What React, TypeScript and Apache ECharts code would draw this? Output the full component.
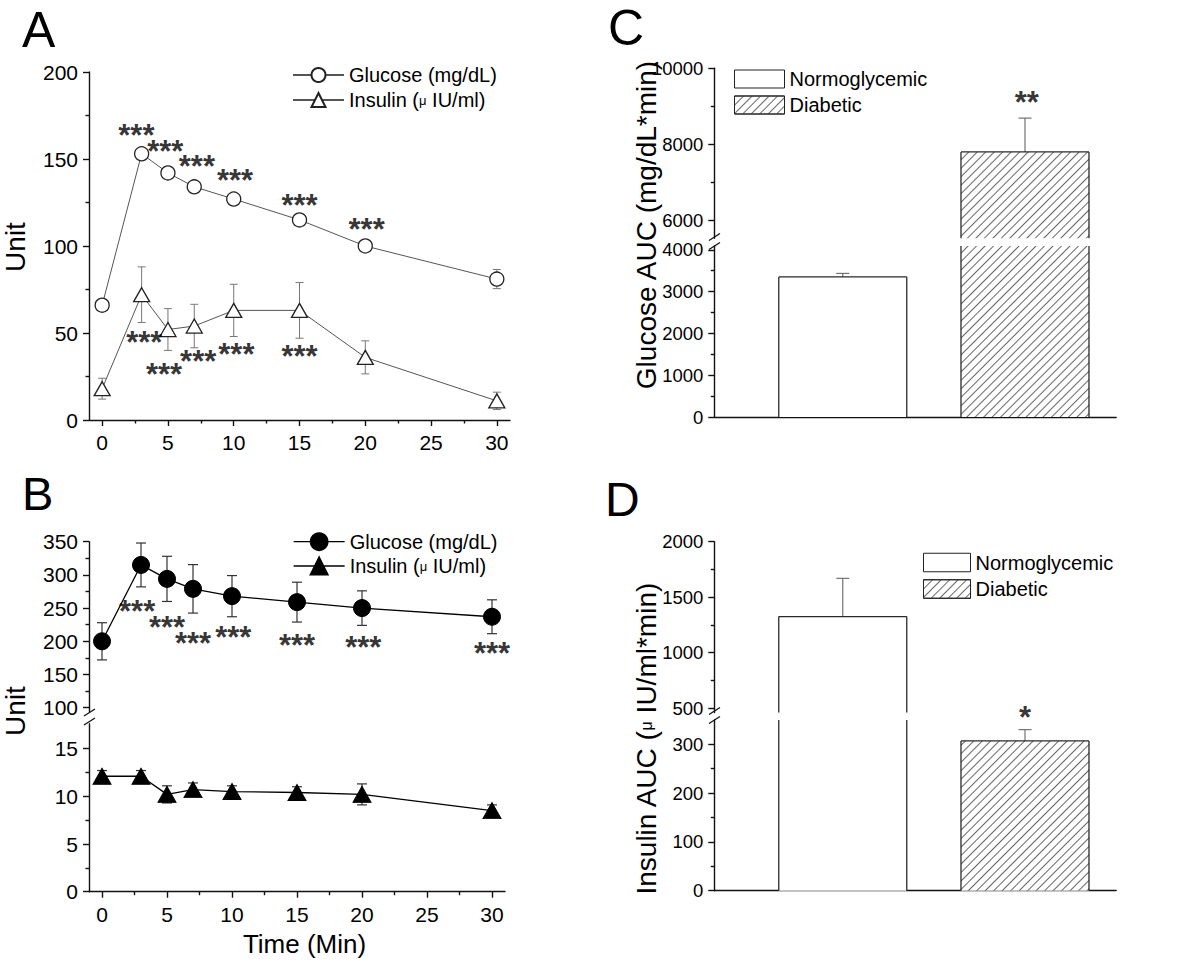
import React, { useEffect, useRef } from 'react';
import * as echarts from 'echarts';

const FONT = '"Liberation Sans", Arial, Helvetica, sans-serif';

// ---------- Panels A & B: time course ----------
const timePoints = [0, 3, 5, 7, 10, 15, 20, 30];
const normGlucose = [66, 153, 142, 134, 127, 115, 100, 81];
const normGlucoseErr = [3, 3, 2, 2, 2, 2, 2, 5.5];
const normInsulin = [18, 72, 52, 54, 63, 63, 36, 11];
const normInsulinErr = [6, 16, 12, 12.5, 15, 16, 9.5, 5];
const diabGlucose = [200, 315, 294, 279, 268, 259, 250, 237];
const diabGlucoseErr = [28, 33, 34, 36.5, 31, 30, 26, 25.5];
const diabInsulin = [12.1, 12.1, 10.2, 10.7, 10.5, 10.4, 10.2, 8.5];
const diabInsulinErr = [0.6, 0.6, 0.9, 0.7, 0.6, 0.6, 1.1, 0.6];

const timeTicks = [0, 5, 10, 15, 20, 25, 30];
const timeMinorTicks = [2.5, 7.5, 12.5, 17.5, 22.5, 27.5];
const unitTicksA = [0, 50, 100, 150, 200];
const unitMinorA = [25, 75, 125, 175];
const unitTicksBHigh = [100, 150, 200, 250, 300, 350];
const unitMinorBHigh = [125, 175, 225, 275, 325];
const unitTicksBLow = [0, 5, 10, 15];
const unitMinorBLow = [2.5, 7.5, 12.5];

// ---------- Panels C & D: AUC ----------
const groups = ['Normoglycemic', 'Diabetic'];
const groupX = [1, 2];
const glucoseAUC = [3350, 7800];
const glucoseAUCErr = [85, 890];
const insulinAUC = [1325, 307];
const insulinAUCErr = [345, 23];

const glucoseAucTicksHigh = [6000, 8000, 10000];
const glucoseAucMinorHigh = [7000, 9000];
const glucoseAucTicksLow = [0, 1000, 2000, 3000, 4000];
const glucoseAucMinorLow = [500, 1500, 2500, 3500];
const insulinAucTicksHigh = [500, 1000, 1500, 2000];
const insulinAucMinorHigh = [750, 1250, 1750];
const insulinAucTicksLow = [0, 100, 200, 300];
const insulinAucMinorLow = [50, 150, 250];

// significance marks (x, y at glyph centre)
const starsAGlucose = [[2.6, 166], [4.8, 157], [7.2, 148], [10.1, 140], [15, 126], [20.1, 112]];
const starsAInsulin = [[3.2, 47], [4.7, 29], [7.3, 36], [10.2, 40], [15, 39]];
const starsBGlucose = [[2.7, 251], [5, 228], [7, 204], [10.1, 213], [15, 201], [20.1, 198], [30, 188]];
const starsCGlucoseAUC = [[2.01, 9210]];
const starsDInsulinAUC = [[2.0, 365]];

const LINE = { color: '#111', width: 1.4 };
const BAR_WIDTH = 128;
const BAR_CAP = 13;
const HATCH = {
  symbol: 'rect',
  symbolSize: 1,
  dashArrayX: [1, 0],
  dashArrayY: [0.8, 4.2],
  rotation: -Math.PI / 4,
  color: '#666',
  backgroundColor: '#fff',
};
const plain = (v: number) => String(v);

const mainY = (gridIndex: number, min: number, max: number, ticks: number[], fontSize: number) => ({
  type: 'value', gridIndex, min, max, position: 'left',
  axisLine: { show: true, onZero: false, lineStyle: LINE },
  axisTick: { show: true, length: 6, customValues: ticks, lineStyle: LINE },
  axisLabel: { show: true, customValues: ticks, formatter: plain, fontSize, margin: 11, color: '#000', fontFamily: FONT },
  splitLine: { show: false },
});
const minorY = (gridIndex: number, min: number, max: number, ticks: number[]) => ({
  type: 'value', gridIndex, min, max, position: 'left',
  axisLine: { show: false, onZero: false },
  axisTick: { show: true, length: 3.5, customValues: ticks, lineStyle: LINE },
  axisLabel: { show: false },
  splitLine: { show: false },
});
const mainX = (gridIndex: number, min: number, max: number, ticks: number[] | null, fontSize: number) => ({
  type: 'value', gridIndex, min, max, position: 'bottom',
  axisLine: { show: true, onZero: false, lineStyle: LINE },
  axisTick: ticks ? { show: true, length: 6, customValues: ticks, lineStyle: LINE } : { show: false },
  axisLabel: ticks
    ? { show: true, customValues: ticks, formatter: plain, fontSize, margin: 12, color: '#000', fontFamily: FONT }
    : { show: false },
  splitLine: { show: false },
});
const minorX = (gridIndex: number, min: number, max: number, ticks: number[]) => ({
  type: 'value', gridIndex, min, max, position: 'bottom',
  axisLine: { show: false, onZero: false },
  axisTick: { show: true, length: 3.5, customValues: ticks, lineStyle: LINE },
  axisLabel: { show: false },
  splitLine: { show: false },
});
const hiddenX = (gridIndex: number, min: number, max: number) => ({
  type: 'value', gridIndex, min, max, show: false, position: 'bottom',
  axisLine: { onZero: false }, splitLine: { show: false },
});

const ln = (x1: number, y1: number, x2: number, y2: number, style: any) => ({
  type: 'line', shape: { x1, y1, x2, y2 }, style,
});

const errorBars = (xs: number[], ys: number[], es: number[], xAxisIndex: number, yAxisIndex: number,
  color: string, cap: number, width: number) => ({
  type: 'custom', xAxisIndex, yAxisIndex, z: 1, silent: true,
  data: xs.map((x, i) => [x, ys[i], es[i]]),
  encode: { x: 0, y: 1 },
  renderItem: (_params: any, api: any) => {
    const x = api.value(0), y = api.value(1), e = api.value(2);
    const hi = api.coord([x, y + e]);
    const lo = api.coord([x, y - e]);
    const style = { stroke: color, lineWidth: width, fill: null };
    return {
      type: 'group',
      children: [
        ln(hi[0], hi[1], lo[0], lo[1], style),
        ln(hi[0] - cap / 2, hi[1], hi[0] + cap / 2, hi[1], style),
        ln(lo[0] - cap / 2, lo[1], lo[0] + cap / 2, lo[1], style),
      ],
    };
  },
});

const barOutline = (vals: number[], errs: number[], xAxisIndex: number, yAxisIndex: number) => ({
  type: 'custom', xAxisIndex, yAxisIndex, z: 4, silent: true,
  data: groupX.map((x, i) => [x, vals[i], errs[i]]),
  encode: { x: 0, y: 1 },
  renderItem: (params: any, api: any) => {
    const cs = params.coordSys;
    const x = api.value(0), v = api.value(1), e = api.value(2);
    const t = api.coord([x, v]);
    const b = api.coord([x, 0]);
    const et = api.coord([x, v + e]);
    const top = cs.y, bottom = cs.y + cs.height;
    const hw = BAR_WIDTH / 2;
    const outline = { stroke: '#2a2a2a', lineWidth: 1.3, fill: null };
    const errStyle = { stroke: '#666', lineWidth: 1.1, fill: null };
    const children: any[] = [];
    const y1 = Math.max(t[1], top), y2 = Math.min(b[1], bottom);
    if (y1 < y2) {
      children.push(ln(t[0] - hw, y1, t[0] - hw, y2, outline));
      children.push(ln(t[0] + hw, y1, t[0] + hw, y2, outline));
    }
    const inside = (py: number) => py >= top - 0.5 && py <= bottom + 0.5;
    if (inside(t[1])) {
      const ey = Math.max(et[1], top);
      children.push(ln(t[0], t[1], t[0], ey, errStyle));
      if (inside(et[1])) children.push(ln(t[0] - BAR_CAP / 2, et[1], t[0] + BAR_CAP / 2, et[1], errStyle));
      children.push(ln(t[0] - hw, t[1], t[0] + hw, t[1], outline));
    }
    return { type: 'group', children };
  },
});

const bars = (vals: number[], xAxisIndex: number, yAxisIndex: number) => [
  {
    type: 'bar', name: groups[0], xAxisIndex, yAxisIndex, barWidth: BAR_WIDTH, barGap: '-100%', z: 2, silent: true,
    data: [[groupX[0], vals[0]]], itemStyle: { color: '#fff', borderWidth: 0 },
  },
  {
    type: 'bar', name: groups[1], xAxisIndex, yAxisIndex, barWidth: BAR_WIDTH, barGap: '-100%', z: 2, silent: true,
    data: [[groupX[1], vals[1]]], itemStyle: { color: '#fff', borderWidth: 0, decal: HATCH },
  },
];

const stars = (pts: number[][], text: string, xAxisIndex: number, yAxisIndex: number) => ({
  type: 'scatter', xAxisIndex, yAxisIndex, z: 6, silent: true, clip: false,
  symbolSize: 1, itemStyle: { color: 'rgba(0,0,0,0)' },
  data: pts,
  label: {
    show: true, position: 'inside', formatter: text, fontSize: 31, fontWeight: 'bold',
    color: '#000', offset: [0, 4.5], fontFamily: FONT,
  },
});

const textEl = (text: string, x: number, y: number, fontSize: number, rotation = 0, align = 'center', rich?: any) => ({
  type: 'text', x, y, rotation, silent: true,
  style: { text, fontSize, fontFamily: FONT, fill: '#000', align, verticalAlign: 'middle', rich },
});

const breakMark = (x: number, y: number) => [
  ln(x - 5.5, y - 1, x + 5.5, y - 8, { stroke: '#111', lineWidth: 1.3 }),
  ln(x - 5.5, y + 8, x + 5.5, y + 1, { stroke: '#111', lineWidth: 1.3 }),
];

function buildOption(): any {
  const t = (arr: number[]) => timePoints.map((x, i) => [x, arr[i]]);
  const richMu = { m: { fontSize: 13, fontFamily: FONT, color: '#000' } };
  const legendFmt = (name: string) => name.replace('μ', '{m|μ}');

  return {
    animation: false,
    backgroundColor: '#fff',
    textStyle: { fontFamily: FONT },
    grid: [
      { left: 89, top: 72, width: 421, height: 348, outerBoundsMode: 'none' },
      { left: 89, top: 541.7, width: 416, height: 170, outerBoundsMode: 'none' },
      { left: 89, top: 723.8, width: 416, height: 167.9, outerBoundsMode: 'none' },
      { left: 714.3, top: 68.3, width: 401.8, height: 169.9, outerBoundsMode: 'none' },
      { left: 714.3, top: 246, width: 401.8, height: 171, outerBoundsMode: 'none' },
      { left: 714.3, top: 541.7, width: 401.8, height: 170.9, outerBoundsMode: 'none' },
      { left: 714.3, top: 719.9, width: 401.8, height: 170.8, outerBoundsMode: 'none' },
    ],
    xAxis: [
      mainX(0, -1, 31, timeTicks, 21),
      minorX(0, -1, 31, timeMinorTicks),
      hiddenX(1, -1, 31),
      mainX(2, -1, 31, timeTicks, 21),
      minorX(2, -1, 31, timeMinorTicks),
      hiddenX(3, 0.295, 2.5),
      mainX(4, 0.295, 2.5, null, 18.5),
      hiddenX(5, 0.295, 2.5),
      mainX(6, 0.295, 2.5, null, 18.5),
    ],
    yAxis: [
      mainY(0, 0, 200, unitTicksA, 21),
      minorY(0, 0, 200, unitMinorA),
      mainY(1, 94, 350, unitTicksBHigh, 21),
      minorY(1, 94, 350, unitMinorBHigh),
      mainY(2, 0, 17.6, unitTicksBLow, 21),
      minorY(2, 0, 17.6, unitMinorBLow),
      mainY(3, 5530, 10000, glucoseAucTicksHigh, 18.5),
      minorY(3, 5530, 10000, glucoseAucMinorHigh),
      mainY(4, 0, 4090, glucoseAucTicksLow, 18.5),
      minorY(4, 0, 4090, glucoseAucMinorLow),
      mainY(5, 460, 2000, insulinAucTicksHigh, 18.5),
      minorY(5, 460, 2000, insulinAucMinorHigh),
      mainY(6, 0, 350, insulinAucTicksLow, 18.5),
      minorY(6, 0, 350, insulinAucMinorLow),
    ],
    legend: [
      {
        orient: 'vertical', left: 292, top: 64, padding: 0, itemWidth: 51, itemHeight: 17.5, itemGap: 3,
        selectedMode: false, formatter: legendFmt,
        textStyle: { fontSize: 20, lineHeight: 22, color: '#000', fontFamily: FONT, rich: richMu },
        data: [{ name: 'Glucose (mg/dL)' }, { name: 'Insulin (μ IU/ml)' }],
      },
      {
        orient: 'vertical', left: 293, top: 530.7, padding: 0, itemWidth: 51, itemHeight: 21, itemGap: 2.3,
        selectedMode: false, formatter: legendFmt,
        textStyle: { fontSize: 20, lineHeight: 22, color: '#000', fontFamily: FONT, rich: richMu },
        data: [
          { name: 'Glucose (mg/dL)', itemStyle: { color: '#000', borderColor: '#000' }, lineStyle: { color: '#000', width: 1.3 } },
          { name: 'Insulin (μ IU/ml)', itemStyle: { color: '#000', borderColor: '#000' }, lineStyle: { color: '#000', width: 1.3 } },
        ],
      },
      {
        orient: 'vertical', left: 734, top: 68, padding: 0, itemWidth: 50, itemHeight: 18, itemGap: 4, icon: 'rect',
        selectedMode: false, itemStyle: { borderColor: '#222', borderWidth: 1 },
        textStyle: { fontSize: 20, lineHeight: 22, color: '#000', fontFamily: FONT },
        data: groups,
      },
      {
        orient: 'vertical', left: 923, top: 551.5, padding: 0, itemWidth: 47, itemHeight: 18.5, itemGap: 4.5, icon: 'rect',
        selectedMode: false, itemStyle: { borderColor: '#222', borderWidth: 1 },
        textStyle: { fontSize: 20, lineHeight: 22, color: '#000', fontFamily: FONT },
        data: groups,
      },
    ],
    series: [
      // Panel A
      errorBars(timePoints, normGlucose, normGlucoseErr, 0, 0, '#777', 8, 1),
      errorBars(timePoints, normInsulin, normInsulinErr, 0, 0, '#777', 8, 1),
      {
        type: 'line', name: 'Glucose (mg/dL)', xAxisIndex: 0, yAxisIndex: 0, z: 3, silent: true,
        data: t(normGlucose), symbol: 'circle', symbolSize: 14,
        lineStyle: { color: '#555', width: 1 },
        itemStyle: { color: '#fff', borderColor: '#222', borderWidth: 1.3 },
      },
      {
        type: 'line', name: 'Insulin (μ IU/ml)', xAxisIndex: 0, yAxisIndex: 0, z: 3, silent: true,
        data: t(normInsulin), symbol: 'triangle', symbolSize: [16, 14],
        lineStyle: { color: '#555', width: 1 },
        itemStyle: { color: '#fff', borderColor: '#222', borderWidth: 1.3 },
      },
      stars(starsAGlucose, '***', 0, 0),
      stars(starsAInsulin, '***', 0, 0),
      // Panel B
      errorBars(timePoints, diabGlucose, diabGlucoseErr, 2, 2, '#333', 10, 1.2),
      errorBars(timePoints, diabInsulin, diabInsulinErr, 3, 4, '#333', 10, 1.2),
      {
        type: 'line', name: 'Glucose (mg/dL)', xAxisIndex: 2, yAxisIndex: 2, z: 3, silent: true,
        data: t(diabGlucose), symbol: 'circle', symbolSize: 17,
        lineStyle: { color: '#000', width: 1.3 },
        itemStyle: { color: '#000', borderColor: '#000', borderWidth: 1 },
      },
      {
        type: 'line', name: 'Insulin (μ IU/ml)', xAxisIndex: 3, yAxisIndex: 4, z: 3, silent: true,
        data: t(diabInsulin), symbol: 'triangle', symbolSize: [18, 16],
        lineStyle: { color: '#000', width: 1.3 },
        itemStyle: { color: '#000', borderColor: '#000', borderWidth: 1 },
      },
      stars(starsBGlucose, '***', 2, 2),
      // Panel C
      ...bars(glucoseAUC, 5, 6),
      ...bars(glucoseAUC, 6, 8),
      barOutline(glucoseAUC, glucoseAUCErr, 5, 6),
      barOutline(glucoseAUC, glucoseAUCErr, 6, 8),
      stars(starsCGlucoseAUC, '**', 5, 6),
      // Panel D
      ...bars(insulinAUC, 7, 10),
      ...bars(insulinAUC, 8, 12),
      barOutline(insulinAUC, insulinAUCErr, 7, 10),
      barOutline(insulinAUC, insulinAUCErr, 8, 12),
      stars(starsDInsulinAUC, '*', 8, 12),
    ],
    graphic: [
      textEl('A', 22, 30, 50, 0, 'left'),
      textEl('B', 22, 493.5, 47, 0, 'left'),
      textEl('C', 608, 28, 50, 0, 'left'),
      textEl('D', 605, 499, 48, 0, 'left'),
      textEl('Unit', 15.5, 247, 28, Math.PI / 2),
      textEl('Unit', 15.5, 711, 28, Math.PI / 2),
      textEl('Time (Min)', 304.5, 944, 26),
      textEl('Glucose AUC (mg/dL*min)', 646, 225, 28, Math.PI / 2),
      textEl('Insulin AUC ({m|μ} IU/ml*min)', 646, 739, 28, Math.PI / 2, 'center', { m: { fontSize: 16, fontFamily: FONT, fill: '#000' } }),
      ...breakMark(89.5, 717),
      ...breakMark(714.5, 241.5),
      ...breakMark(714.5, 715.5),
    ],
  };
}

export default function App() {
  const ref = useRef<HTMLDivElement>(null);
  useEffect(() => {
    const chart = echarts.init(ref.current!, null, { renderer: 'svg', width: 1200, height: 963 });
    chart.setOption(buildOption());
    return () => chart.dispose();
  }, []);
  return (
    <div
      ref={ref}
      style={{ position: 'absolute', left: 0, top: 0, width: 1200, height: 963, background: '#fff' }}
    />
  );
}
